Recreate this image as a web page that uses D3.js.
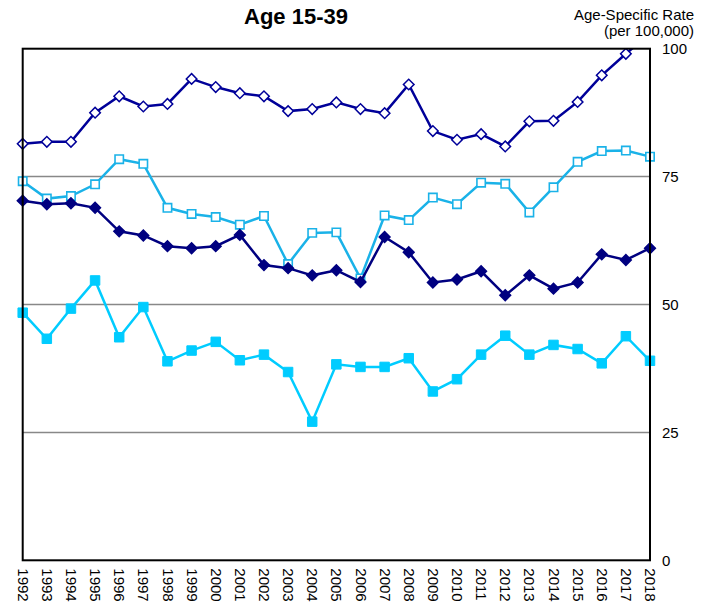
<!DOCTYPE html>
<html lang="en">
<head>
    <meta charset="UTF-8">
    <title>Age 15-39</title>
    <script src="https://d3js.org/d3.v7.min.js"></script>
    <style>
        body { margin: 0; background: #fff; font-family: "Liberation Sans", Arial, sans-serif; }
        svg text { font-family: "Liberation Sans", Arial, sans-serif; fill: #000; }
    </style>
</head>
<body>
<script>
    // Data
    const years = d3.range(1992, 2019);
    const yTicks = [0, 25, 50, 75, 100];

    // open diamonds (dark blue)
    const seriesOpenDiamond = [81.4, 81.8, 81.8, 87.5, 90.7, 88.7, 89.2, 94.1, 92.5, 91.3, 90.7, 87.8, 88.2, 89.5,
        88.2, 87.4, 93.0, 83.9, 82.2, 83.3, 80.9, 85.8, 85.9, 89.6, 94.8, 99.0, 103.0];
    // open squares (light blue)
    const seriesOpenSquare = [74.1, 70.7, 71.2, 73.5, 78.4, 77.5, 68.9, 67.7, 67.1, 65.6, 67.3, 57.9, 64.0, 64.1,
        55.1, 67.4, 66.5, 70.9, 69.6, 73.8, 73.6, 68.0, 72.9, 77.9, 80.0, 80.1, 78.9];
    // filled diamonds (navy)
    const seriesFilledDiamond = [70.3, 69.6, 69.8, 68.9, 64.3, 63.5, 61.4, 61.0, 61.4, 63.6, 57.7, 57.1, 55.7, 56.7,
        54.4, 63.2, 60.2, 54.3, 54.9, 56.5, 51.8, 55.7, 53.1, 54.3, 59.8, 58.7, 61.0];
    // filled squares (cyan)
    const seriesFilledSquare = [48.4, 43.3, 49.2, 54.7, 43.6, 49.5, 38.9, 41.0, 42.7, 39.1, 40.2, 36.8, 27.1, 38.3,
        37.8, 37.8, 39.5, 33.0, 35.4, 40.2, 43.9, 40.2, 42.1, 41.3, 38.5, 43.8, 39.0];

    const W = 707, H = 606;
    const plot = {left: 22.7, right: 650, top: 48.7, bottom: 560.3};

    const svg = d3.select("body").append("svg")
        .attr("width", W)
        .attr("height", H);

    const x = d3.scaleLinear().domain([1992, 2018]).range([plot.left, plot.right]);
    const y = d3.scaleLinear().domain([0, 100]).range([plot.bottom, plot.top]);

    // clip only at the top / bottom, markers at the sides stay whole
    svg.append("clipPath").attr("id", "clip")
        .append("rect")
        .attr("x", 0).attr("y", plot.top)
        .attr("width", W).attr("height", plot.bottom - plot.top);

    // gridlines
    svg.append("g")
        .selectAll("line")
        .data(yTicks.filter(d => d > 0 && d < 100))
        .enter().append("line")
        .attr("x1", plot.left).attr("x2", plot.right)
        .attr("y1", d => y(d)).attr("y2", d => y(d))
        .attr("stroke", "#888")
        .attr("stroke-width", 1.5);

    // title
    svg.append("text")
        .attr("x", 296).attr("y", 24)
        .attr("text-anchor", "middle")
        .style("font-size", "22px")
        .style("font-weight", "bold")
        .text("Age 15-39");

    // y axis label
    svg.append("text")
        .attr("x", 694).attr("y", 19.5)
        .attr("text-anchor", "end")
        .style("font-size", "15px")
        .text("Age-Specific Rate");
    svg.append("text")
        .attr("x", 694).attr("y", 35.5)
        .attr("text-anchor", "end")
        .style("font-size", "15px")
        .text("(per 100,000)");

    // y axis on the right
    const yAxis = svg.append("g")
        .attr("transform", `translate(${plot.right},0)`)
        .call(d3.axisRight(y).tickValues(yTicks).tickSize(0).tickPadding(12));
    yAxis.select(".domain").remove();
    yAxis.selectAll("text").style("font-size", "15px").attr("dy", "0.33em");

    // x axis, labels rotated
    const xAxis = svg.append("g")
        .attr("transform", `translate(0,${plot.bottom})`)
        .call(d3.axisBottom(x).tickValues(years).tickFormat(d3.format("d")).tickSize(0));
    xAxis.select(".domain").remove();
    xAxis.selectAll("text")
        .style("font-size", "15px")
        .style("text-anchor", "start")
        .attr("x", 8)
        .attr("y", 0)
        .attr("dy", "0.36em")
        .attr("transform", "rotate(90)");

    // rot: 45 turns the square symbol into a diamond
    const series = [
        {values: seriesFilledSquare, color: "#00CCFF", size: 90, rot: 0, fill: "#00CCFF", sw: 1},
        {values: seriesOpenSquare, color: "#1AB2E8", size: 70, rot: 0, fill: "#fff", sw: 1.6},
        {values: seriesFilledDiamond, color: "#000080", size: 58, rot: 45, fill: "#000080", sw: 1.5},
        {values: seriesOpenDiamond, color: "#000099", size: 56, rot: 45, fill: "#fff", sw: 1.5}
    ];

    const line = d3.line()
        .x((d, i) => x(years[i]))
        .y(d => y(d));

    const marks = svg.append("g").attr("clip-path", "url(#clip)");

    series.forEach(s => {
        marks.append("path")
            .datum(s.values)
            .attr("fill", "none")
            .attr("stroke", s.color)
            .attr("stroke-width", 2.5)
            .attr("d", line);

        marks.append("g")
            .selectAll("path")
            .data(s.values)
            .enter().append("path")
            .attr("transform", (d, i) => `translate(${x(years[i])},${y(d)}) rotate(${s.rot})`)
            .attr("d", d3.symbol().type(d3.symbolSquare).size(s.size))
            .attr("fill", s.fill)
            .attr("stroke", s.color)
            .attr("stroke-width", s.sw);
    });

    // plot frame
    svg.append("rect")
        .attr("x", plot.left).attr("y", plot.top)
        .attr("width", plot.right - plot.left)
        .attr("height", plot.bottom - plot.top)
        .attr("fill", "none")
        .attr("stroke", "#000")
        .attr("stroke-width", 2);
</script>
</body>
</html>
